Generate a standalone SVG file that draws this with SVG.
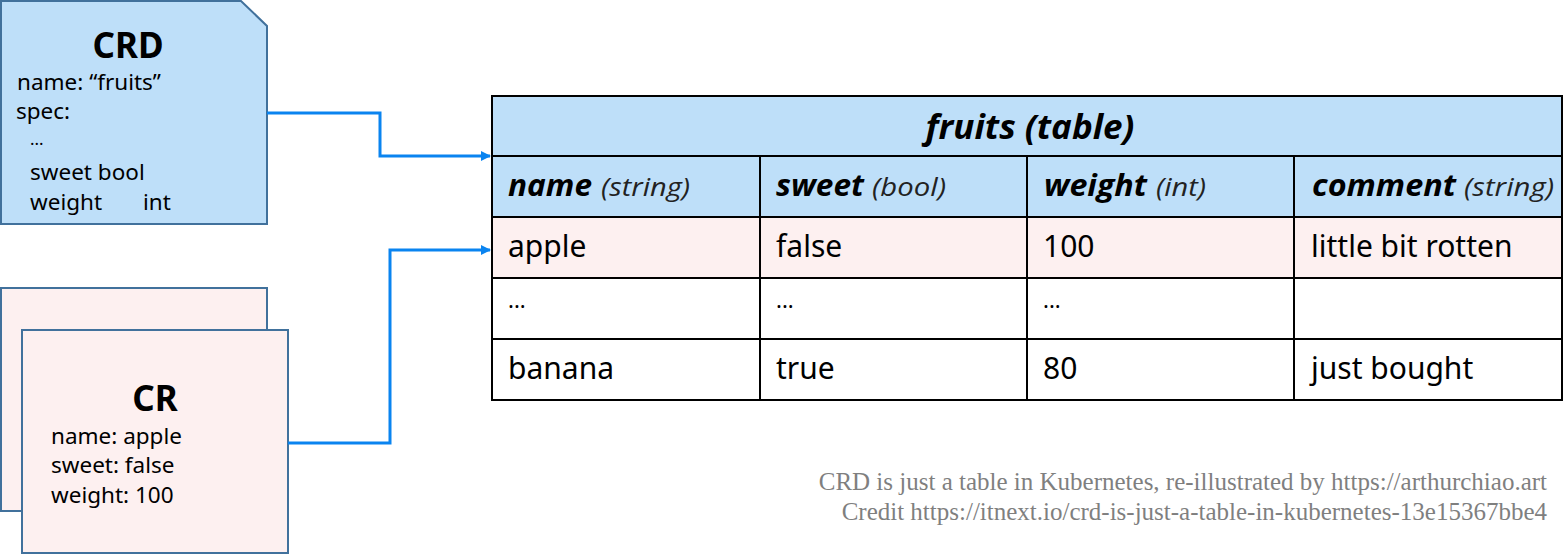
<svg xmlns="http://www.w3.org/2000/svg" width="1565" height="555" viewBox="0 0 1565 555">
<defs>
<marker id="arr" markerWidth="10" markerHeight="10" refX="9" refY="5" orient="auto" markerUnits="userSpaceOnUse">
<path d="M0,0 L10,5 L0,10 Z" fill="#0A84F0"/>
</marker>
<style>
.box{stroke:#41719C;stroke-width:2}
.blue{fill:#BEDFF9}
.pink{fill:#FDF0F0}
.t{font-family:"Noto Sans","Open Sans",sans-serif;fill:#000;font-size:22.5px}
.ttl{font-family:"Noto Sans","Open Sans",sans-serif;fill:#000;font-weight:bold;font-size:35px;text-anchor:middle}
.conn{fill:none;stroke:#0A84F0;stroke-width:3}
.grid{stroke:#000;stroke-width:2;fill:none}
.hb{font-family:"Open Sans","Noto Sans",sans-serif;font-weight:bold;font-style:italic;font-size:30px}
.hi{font-family:"Open Sans","Noto Sans",sans-serif;font-weight:normal;font-style:italic;font-size:26px;fill:#222}
.cell{font-family:"Noto Sans","Open Sans",sans-serif;font-size:30px;fill:#000}
.dots{font-family:"Noto Sans","Open Sans",sans-serif;font-size:22px;fill:#000}
.foot{font-family:"Liberation Serif",serif;font-size:25px;fill:#7F7F7F;text-anchor:end}
</style>
</defs>
<g id="crd">
<path class="box blue" d="M1,1 H241 L267,26 V224 H1 Z"/>
<text class="ttl" x="128" y="58">CRD</text>
<text class="t" x="17" y="90">name: “fruits”</text>
<text class="t" x="16" y="119">spec:</text>
<text class="t" x="30" y="145" style="font-size:17px">...</text>
<text class="t" x="30" y="180">sweet bool</text>
<text class="t" x="30" y="210">weight</text>
<text class="t" x="143" y="210">int</text>
</g>
<g id="cr-back">
<rect class="box pink" x="1" y="288" width="266" height="223"/>
</g>
<g id="cr">
<rect class="box pink" x="22" y="330" width="266" height="223"/>
<text class="ttl" x="155" y="411">CR</text>
<text class="t" x="51" y="444">name: apple</text>
<text class="t" x="51" y="473">sweet: false</text>
<text class="t" x="51" y="503">weight: 100</text>
</g>
<g id="connectors">
<polyline class="conn" points="267,113 380,113 380,156 490,156" marker-end="url(#arr)"/>
<polyline class="conn" points="288,443 390,443 390,250 490,250" marker-end="url(#arr)"/>
</g>
<g id="table">
<rect x="492" y="96" width="1070" height="121" fill="#BEDFF9"/>
<rect x="492" y="217" width="1070" height="61" fill="#FDF0F0"/>
<rect x="492" y="278" width="1070" height="122" fill="#FFFFFF"/>
<rect class="grid" x="492" y="96" width="1070" height="304"/>
<line class="grid" x1="492" y1="156" x2="1562" y2="156"/>
<line class="grid" x1="492" y1="217" x2="1562" y2="217"/>
<line class="grid" x1="492" y1="278" x2="1562" y2="278"/>
<line class="grid" x1="492" y1="339" x2="1562" y2="339"/>
<line class="grid" x1="760" y1="156" x2="760" y2="400"/>
<line class="grid" x1="1027" y1="156" x2="1027" y2="400"/>
<line class="grid" x1="1294" y1="156" x2="1294" y2="400"/>
<text x="1030" y="139" text-anchor="middle" font-family="Open Sans, Noto Sans, sans-serif" font-weight="bold" font-style="italic" font-size="34" textLength="209" lengthAdjust="spacingAndGlyphs">fruits (table)</text>
<text class="hb" x="508" y="196" textLength="84" lengthAdjust="spacingAndGlyphs">name</text>
<text class="hi" x="601" y="196" textLength="89" lengthAdjust="spacingAndGlyphs">(string)</text>
<text class="hb" x="776" y="196" textLength="88" lengthAdjust="spacingAndGlyphs">sweet</text>
<text class="hi" x="872" y="196" textLength="74" lengthAdjust="spacingAndGlyphs">(bool)</text>
<text class="hb" x="1044" y="196" textLength="103" lengthAdjust="spacingAndGlyphs">weight</text>
<text class="hi" x="1156" y="196" textLength="50" lengthAdjust="spacingAndGlyphs">(int)</text>
<text class="hb" x="1312" y="196" textLength="144" lengthAdjust="spacingAndGlyphs">comment</text>
<text class="hi" x="1464" y="196" textLength="90" lengthAdjust="spacingAndGlyphs">(string)</text>
<text class="cell" x="508" y="257">apple</text>
<text class="cell" x="776" y="257">false</text>
<text class="cell" x="1043" y="257">100</text>
<text class="cell" x="1311" y="257">little bit rotten</text>
<text class="dots" x="508" y="308">...</text>
<text class="dots" x="776" y="308">...</text>
<text class="dots" x="1043" y="308">...</text>
<text class="cell" x="508" y="379">banana</text>
<text class="cell" x="776" y="379">true</text>
<text class="cell" x="1043" y="379">80</text>
<text class="cell" x="1311" y="379">just bought</text>
</g>
<g id="footer">
<text class="foot" x="1547" y="490">CRD is just a table in Kubernetes, re-illustrated by https://arthurchiao.art</text>
<text class="foot" x="1547" y="520">Credit https://itnext.io/crd-is-just-a-table-in-kubernetes-13e15367bbe4</text>
</g>
</svg>
